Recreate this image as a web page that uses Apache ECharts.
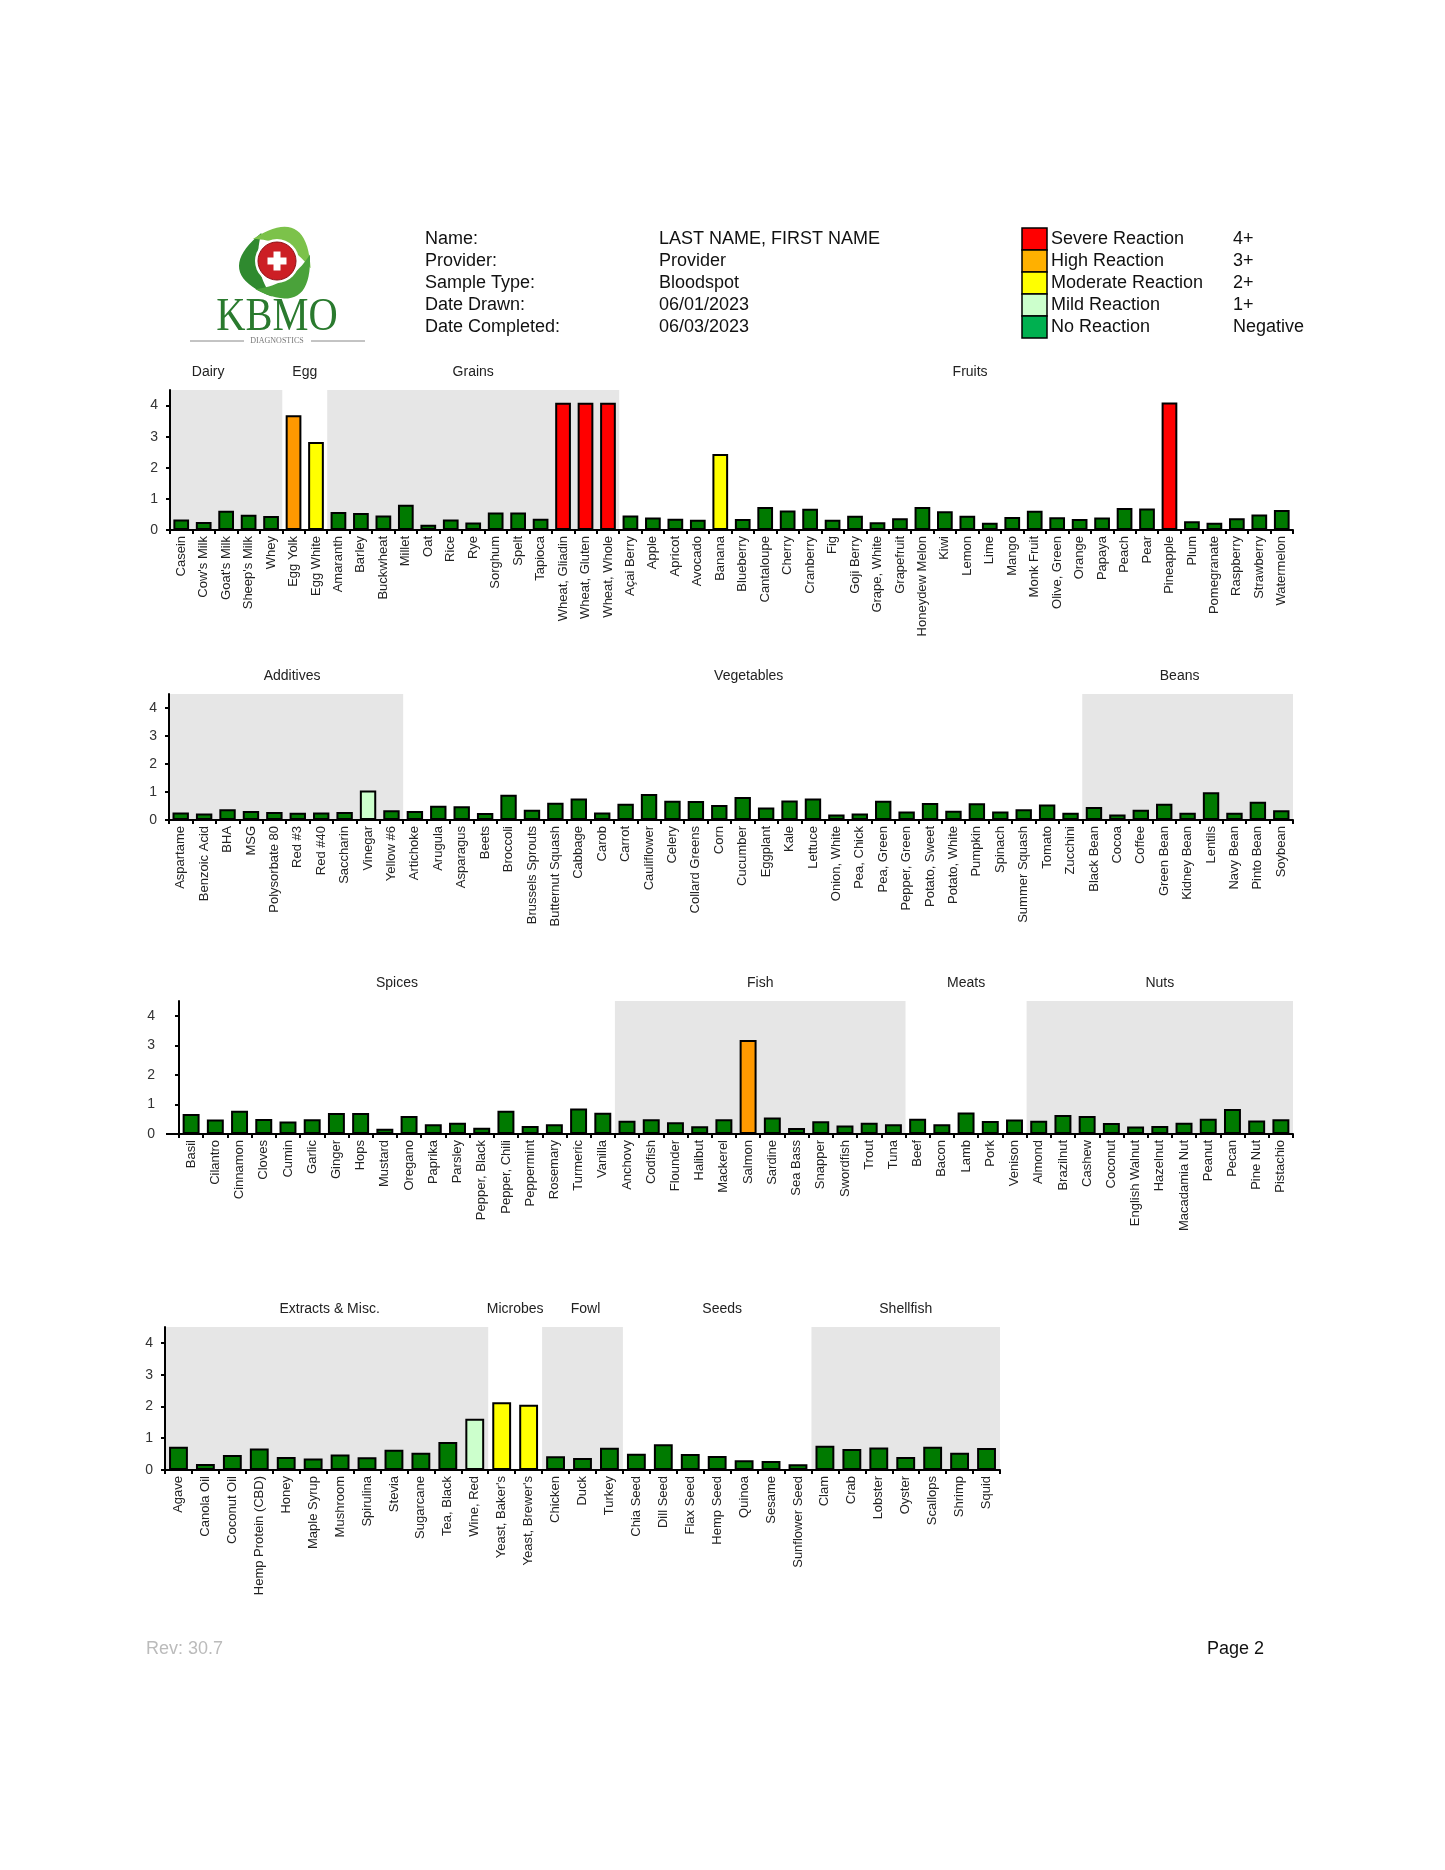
<!DOCTYPE html>
<html><head><meta charset="utf-8">
<script src="https://cdn.jsdelivr.net/npm/echarts@6/dist/echarts.min.js"></script>
<style>html,body{margin:0;padding:0;background:#fff}#c{width:1445px;height:1870px}</style>
</head><body><div id="c"></div>
<script>
// ---------- DATA ----------
const cats1 = ["Casein","Cow's Milk","Goat's Milk","Sheep's Milk","Whey","Egg Yolk","Egg White","Amaranth","Barley","Buckwheat","Millet","Oat","Rice","Rye","Sorghum","Spelt","Tapioca","Wheat, Gliadin","Wheat, Gluten","Wheat, Whole","Açai Berry","Apple","Apricot","Avocado","Banana","Blueberry","Cantaloupe","Cherry","Cranberry","Fig","Goji Berry","Grape, White","Grapefruit","Honeydew Melon","Kiwi","Lemon","Lime","Mango","Monk Fruit","Olive, Green","Orange","Papaya","Peach","Pear","Pineapple","Plum","Pomegranate","Raspberry","Strawberry","Watermelon"];
const vals1 = [0.34,0.26,0.62,0.49,0.45, 3.69,2.83, 0.58,0.55,0.47,0.81,0.17,0.34,0.24,0.56,0.56,0.36,4.09,4.09,4.09, 0.47,0.40,0.36,0.33,2.44,0.35,0.74,0.63,0.68,0.33,0.46,0.25,0.38,0.74,0.60,0.46,0.23,0.42,0.62,0.41,0.35,0.40,0.71,0.69,4.10,0.28,0.23,0.38,0.50,0.64];
const groupNames1 = ["Dairy","Egg","Grains","Fruits"];
const groupSizes1 = [5,2,13,30];
const groupShaded1 = [true,false,true,false];

const cats2 = ["Aspartame","Benzoic Acid","BHA","MSG","Polysorbate 80","Red #3","Red #40","Saccharin","Vinegar","Yellow #6","Artichoke","Arugula","Asparagus","Beets","Broccoli","Brussels Sprouts","Butternut Squash","Cabbage","Carob","Carrot","Cauliflower","Celery","Collard Greens","Corn","Cucumber","Eggplant","Kale","Lettuce","Onion, White","Pea, Chick","Pea, Green","Pepper, Green","Potato, Sweet","Potato, White","Pumpkin","Spinach","Summer Squash","Tomato","Zucchini","Black Bean","Cocoa","Coffee","Green Bean","Kidney Bean","Lentils","Navy Bean","Pinto Bean","Soybean"];
const vals2 = [0.27,0.23,0.38,0.32,0.29,0.26,0.27,0.29,1.05,0.35, 0.32,0.51,0.49,0.25,0.90,0.37,0.62,0.77,0.27,0.58,0.93,0.69,0.68,0.54,0.82,0.45,0.70,0.77,0.20,0.23,0.69,0.30,0.61,0.33,0.60,0.30,0.38,0.55,0.26, 0.46,0.20,0.37,0.58,0.26,0.99,0.26,0.65,0.35];
const groupNames2 = ["Additives","Vegetables","Beans"];
const groupSizes2 = [10,29,9];
const groupShaded2 = [true,false,true];

const cats3 = ["Basil","Cilantro","Cinnamon","Cloves","Cumin","Garlic","Ginger","Hops","Mustard","Oregano","Paprika","Parsley","Pepper, Black","Pepper, Chili","Peppermint","Rosemary","Turmeric","Vanilla","Anchovy","Codfish","Flounder","Halibut","Mackerel","Salmon","Sardine","Sea Bass","Snapper","Swordfish","Trout","Tuna","Beef","Bacon","Lamb","Pork","Venison","Almond","Brazilnut","Cashew","Coconut","English Walnut","Hazelnut","Macadamia Nut","Peanut","Pecan","Pine Nut","Pistachio"];
const vals3 = [0.68,0.49,0.79,0.51,0.42,0.50,0.71,0.71,0.18,0.61,0.33,0.38,0.21,0.79,0.27,0.33,0.86,0.72, 0.45,0.50,0.40,0.26,0.50,3.18,0.56,0.20,0.43,0.29,0.38,0.33, 0.52,0.33,0.73,0.44,0.49, 0.45,0.64,0.61,0.37,0.25,0.27,0.38,0.52,0.85,0.46,0.50];
const groupNames3 = ["Spices","Fish","Meats","Nuts"];
const groupSizes3 = [18,12,5,11];
const groupShaded3 = [false,true,false,true];

const cats4 = ["Agave","Canola Oil","Coconut Oil","Hemp Protein (CBD)","Honey","Maple Syrup","Mushroom","Spirulina","Stevia","Sugarcane","Tea, Black","Wine, Red","Yeast, Baker's","Yeast, Brewer's","Chicken","Duck","Turkey","Chia Seed","Dill Seed","Flax Seed","Hemp Seed","Quinoa","Sesame","Sunflower Seed","Clam","Crab","Lobster","Oyster","Scallops","Shrimp","Squid"];
const vals4 = [0.73,0.19,0.47,0.68,0.41,0.36,0.49,0.40,0.64,0.54,0.88,1.61, 2.13,2.05, 0.43,0.38,0.70, 0.51,0.81,0.50,0.44,0.31,0.28,0.18, 0.76,0.66,0.71,0.41,0.73,0.54,0.69];
const groupNames4 = ["Extracts & Misc.","Microbes","Fowl","Seeds","Shellfish"];
const groupSizes4 = [12,2,3,7,7];
const groupShaded4 = [true,false,true,false,true];

const yTicks = [0,1,2,3,4];
const yMax = 4.5;

const levelMins = [4,3,2,1,0];
const barColors = ["#ff0000","#ff9900","#ffff00","#ccffcc","#007a00"];

const legendNames = ["Severe Reaction","High Reaction","Moderate Reaction","Mild Reaction","No Reaction"];
const legendGrades = ["4+","3+","2+","1+","Negative"];
const legendColors = ["#ff0000","#ffb000","#ffff00","#ccffcc","#00b050"];

const infoLabels = ["Name:","Provider:","Sample Type:","Date Drawn:","Date Completed:"];
const infoValues = ["LAST NAME, FIRST NAME","Provider","Bloodspot","06/01/2023","06/03/2023"];

// ---------- LAYOUT ----------
const FONT = "'Liberation Sans', Arial, sans-serif";
function colorFor(v){ for(let i=0;i<levelMins.length;i++){ if(v>=levelMins[i]) return barColors[i]; } return barColors[barColors.length-1]; }

const panels = [
  {cats:cats1, vals:vals1, gn:groupNames1, gs:groupSizes1, gsh:groupShaded1, rect:{left:170, top:390, width:1123, height:140}, yOff:0, nudge:[-18,0,0,14]},
  {cats:cats2, vals:vals2, gn:groupNames2, gs:groupSizes2, gsh:groupShaded2, rect:{left:169, top:694, width:1124, height:126}, yOff:0, nudge:[6,6,-8]},
  {cats:cats3, vals:vals3, gn:groupNames3, gs:groupSizes3, gsh:groupShaded3, rect:{left:179, top:1001, width:1114, height:133}, yOff:12, nudge:[0,0,0,0]},
  {cats:cats4, vals:vals4, gn:groupNames4, gs:groupSizes4, gsh:groupShaded4, rect:{left:165, top:1327, width:835, height:143}, yOff:0, nudge:[3,0,3,5,0]}
];

const grid=[], xAxis=[], yAxis=[], series=[];
panels.forEach((p,g)=>{
  grid.push(Object.assign({outerBoundsMode:'none', containLabel:false}, p.rect));
  xAxis.push({gridIndex:g, type:'category', data:p.cats,
    axisLine:{show:true, lineStyle:{color:'#000', width:2}},
    axisTick:{show:true, length:4, lineStyle:{color:'#000', width:2}},
    axisLabel:{interval:0, rotate:90, fontSize:13, color:'#222', margin:6, fontFamily:FONT, hideOverlap:false},
    splitLine:{show:false}});
  yAxis.push({gridIndex:g, type:'value', min:0, max:yMax, interval:1, offset:p.yOff,
    splitLine:{show:false},
    axisLine:{show:true, lineStyle:{color:'#000', width:2}},
    axisTick:{show:true, length:4, customValues:yTicks, lineStyle:{color:'#000', width:2}},
    axisLabel:{customValues:yTicks, fontSize:14, color:'#333', margin:12, fontFamily:FONT}});
});
// hidden value axes (category index units) used to place group shading
panels.forEach((p,g)=>{
  xAxis.push({gridIndex:g, type:'value', min:0, max:p.cats.length, show:false, splitLine:{show:false}});
});
panels.forEach((p,g)=>{
  const shadeData=[]; const groups=[]; let idx=0;
  p.gs.forEach((n,k)=>{
    if(p.gsh[k]) shadeData.push([idx, idx+n, 0, yMax]);
    groups.push([{name:p.gn[k], xAxis:p.cats[idx], label:{offset:[p.nudge[k]||0,0]}},{xAxis:p.cats[idx+n-1]}]);
    idx+=n;
  });
  series.push({type:'custom', xAxisIndex:panels.length+g, yAxisIndex:g, data:shadeData, silent:true, z:-1,
    encode:{x:[0,1], y:[2,3]}, animation:false,
    renderItem:(params, api)=>{
      const a = api.coord([api.value(0), api.value(3)]);
      const b = api.coord([api.value(1), api.value(2)]);
      return {type:'rect', shape:{x:a[0], y:a[1], width:b[0]-a[0], height:b[1]-a[1]}, style:{fill:'#e6e6e6'}};
    }});
  series.push({type:'bar', xAxisIndex:g, yAxisIndex:g, barWidth:'70%',
    data:p.vals.map(v=>({value:v, itemStyle:{color:colorFor(v)}})),
    itemStyle:{borderColor:'#000', borderWidth:2}, z:3, animation:false,
    markArea:{silent:true, itemStyle:{color:'rgba(0,0,0,0)'},
      label:{show:true, position:'top', distance:11, fontSize:14, color:'#222', fontFamily:FONT},
      data:groups}});
});

// ---------- HEADER / FOOTER GRAPHICS ----------
const graphic=[];
graphic.push({type:'line', shape:{x1:166, y1:1134, x2:180, y2:1134}, style:{stroke:'#000', lineWidth:2}});

const cx=277, cy=263;
function pt(r,a){ return [cx+r*Math.cos(a), cy+r*Math.sin(a)]; }
function quad(p0,c,p1,n){ const out=[]; for(let i=0;i<=n;i++){ const t=i/n, u=1-t;
  out.push([u*u*p0[0]+2*u*t*c[0]+t*t*p1[0], u*u*p0[1]+2*u*t*c[1]+t*t*p1[1]]); } return out; }
const leafCols=['#2f8a2f','#7cc24a','#4aa23a'];
const leafBase=[Math.PI*0.55, Math.PI*1.25, Math.PI*1.92];
leafBase.forEach((a0,i)=>{
  const span=Math.PI*0.8, am=a0+span/2, a1=a0+span;
  const s=pt(34,a0), e=pt(34,a1), co=pt(66,am), ci=pt(26,am);
  const pts = quad(s,co,e,20).concat(quad(e,ci,s,20).slice(1));
  graphic.push({type:'polygon', shape:{points:pts}, style:{fill:leafCols[i]}});
});
graphic.push({type:'circle', shape:{cx:cx, cy:cy-2, r:22}, style:{fill:'#ffffff'}});
graphic.push({type:'circle', shape:{cx:cx, cy:cy-2, r:19}, style:{fill:'#cc1f25', stroke:'#8e1015', lineWidth:1}});
graphic.push({type:'rect', shape:{x:cx-9.5, y:cy-5.5, width:19, height:7}, style:{fill:'#fff'}});
graphic.push({type:'rect', shape:{x:cx-3.5, y:cy-11.5, width:7, height:19}, style:{fill:'#fff'}});
graphic.push({type:'text', x:277, y:318, scaleX:0.88,
  style:{text:'KBMO', fill:'#2a7a2e', font:"46px 'Liberation Serif', 'Times New Roman', serif", align:'center', verticalAlign:'middle', textAlign:'center', textVerticalAlign:'middle'}});
graphic.push({type:'text', x:277, y:341,
  style:{text:'DIAGNOSTICS', fill:'#777', font:"8px 'Liberation Serif', serif", align:'center', verticalAlign:'middle', textAlign:'center', textVerticalAlign:'middle'}});
graphic.push({type:'line', shape:{x1:190, y1:341, x2:244, y2:341}, style:{stroke:'#888', lineWidth:1}});
graphic.push({type:'line', shape:{x1:311, y1:341, x2:365, y2:341}, style:{stroke:'#888', lineWidth:1}});

const rowY0=239, rowStep=22;
const HF = "18px "+FONT;
infoLabels.forEach((t,i)=>{
  graphic.push({type:'text', x:425, y:rowY0+i*rowStep, style:{text:t, fill:'#111', font:HF, align:'left', verticalAlign:'middle', textAlign:'left', textVerticalAlign:'middle'}});
  graphic.push({type:'text', x:659, y:rowY0+i*rowStep, style:{text:infoValues[i], fill:'#111', font:HF, align:'left', verticalAlign:'middle', textAlign:'left', textVerticalAlign:'middle'}});
});
legendNames.forEach((t,i)=>{
  const y = 228 + i*22;
  graphic.push({type:'rect', shape:{x:1022, y:y, width:25, height:22}, style:{fill:legendColors[i], stroke:'#000', lineWidth:1.5}});
  graphic.push({type:'text', x:1051, y:y+11, style:{text:t, fill:'#111', font:HF, align:'left', verticalAlign:'middle', textAlign:'left', textVerticalAlign:'middle'}});
  graphic.push({type:'text', x:1233, y:y+11, style:{text:legendGrades[i], fill:'#111', font:HF, align:'left', verticalAlign:'middle', textAlign:'left', textVerticalAlign:'middle'}});
});
graphic.push({type:'text', x:146, y:1649, style:{text:'Rev: 30.7', fill:'#bbbbbb', font:HF, align:'left', verticalAlign:'middle', textAlign:'left', textVerticalAlign:'middle'}});
graphic.push({type:'text', x:1207, y:1649, style:{text:'Page 2', fill:'#111', font:HF, align:'left', verticalAlign:'middle', textAlign:'left', textVerticalAlign:'middle'}});

const chart = echarts.init(document.getElementById('c'), null, {renderer:'canvas'});
chart.setOption({
  animation:false,
  backgroundColor:'#ffffff',
  textStyle:{fontFamily:FONT},
  grid, xAxis, yAxis, series, graphic
});
</script>
</body></html>
